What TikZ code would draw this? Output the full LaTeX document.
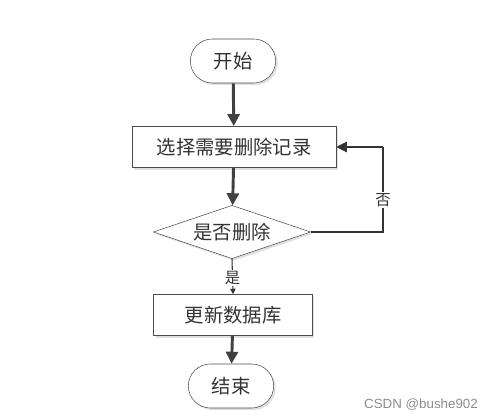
\documentclass[tikz,border=0pt]{standalone}
\usepackage{fontspec}
\newfontfamily\cjk{Noto Sans CJK SC}
\newfontfamily\wmfont{Liberation Sans}
\usetikzlibrary{arrows.meta,positioning,shapes.geometric,shapes.misc,shadows}

\begin{document}
\begin{tikzpicture}[
  x=0.75pt, y=-0.75pt,
  font=\cjk\fontsize{14.5pt}{16pt}\selectfont,
  base/.style={
    draw=black!70,
    fill=white,
    text=black!80,
    inner sep=0pt,
    drop shadow={shadow xshift=1.5pt, shadow yshift=-1.5pt, fill=black!12, opacity=1}
  },
  term/.style={base, rounded rectangle, minimum width=64pt, minimum height=33pt},
  box/.style={base, rectangle, minimum height=31pt},
  decide/.style={base, diamond, aspect=3, minimum width=118pt, minimum height=40pt},
  flow/.style={-{Triangle[length=9pt,width=9pt]}, line width=2.2pt, draw=black!75},
  thin/.style={draw=black!80, line width=0.8pt},
  lbl/.style={fill=white, inner sep=1pt, text=black!80, font=\cjk\fontsize{11.5pt}{13pt}\selectfont}
]
\useasboundingbox (0,0) rectangle (492,420);

% nodes
\node[term] (start) at (233,61) {开始};
\node[box, minimum width=153pt] (select) at (234,147) {选择需要删除记录};
\node[decide] (check) at (232,232) {是否删除};
\node[box, minimum width=119pt] (update) at (233,315) {更新数据库};
\node[term] (stop) at (231,386) {结束};
\coordinate (loopc) at (383,232);

% connectors
\draw[flow] (start) -- (select);
\draw[flow] (select) -- (check);
\draw[thin, -{Triangle[length=4pt,width=4pt]}] (check.south) -- node[lbl, pos=0.55] {是} (update.north);
\draw[thin] (check.east) -- (loopc) -- node[lbl, pos=0.38] {否} (loopc |- select.east);
\draw[thin, -{Triangle[length=8pt,width=8pt]}] (loopc |- select.east) -- (select.east);
\draw[flow] (update) -- (stop);

% watermark
\node[font=\wmfont\fontsize{10pt}{12pt}\selectfont, text=black!45] (mark) at (421,405) {CSDN @bushe902};
\end{tikzpicture}
\end{document}
